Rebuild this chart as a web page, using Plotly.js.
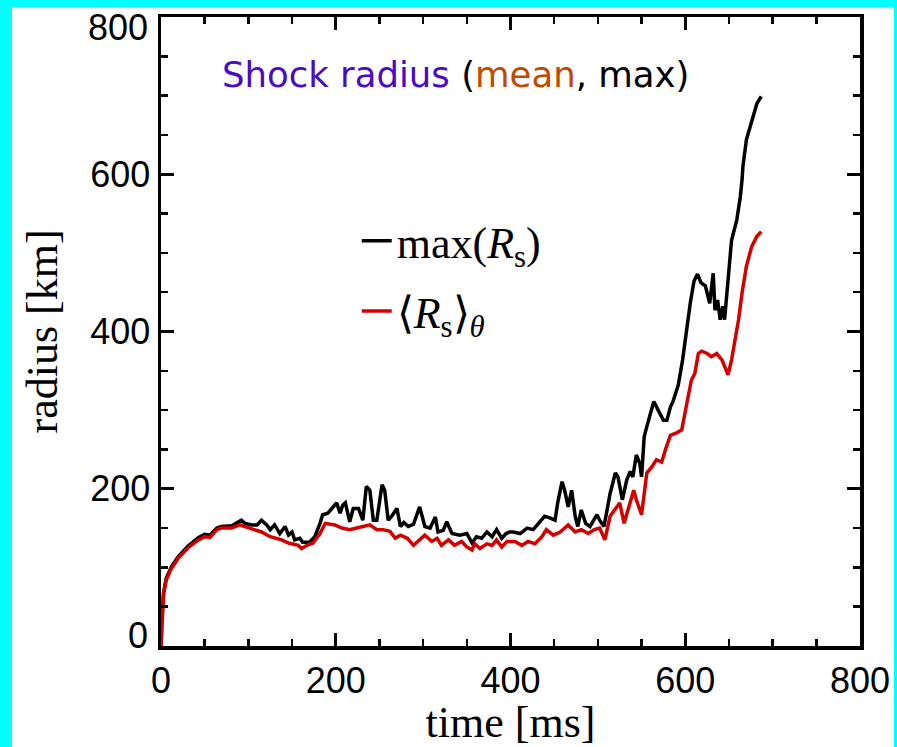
<!DOCTYPE html>
<html>
<head>
<meta charset="utf-8">
<script src="https://cdn.plot.ly/plotly-3.0.1.min.js"></script>
<style>
  html, body { margin: 0; padding: 0; background: #00ffff; }
  #chart { position: absolute; left: 12px; top: 7px; width: 882px; height: 740px; background: #ffffff; }
</style>
</head>
<body>
<div id="chart"></div>
<script>
// max(R_s) vs time
const tMax = [0, 1, 3, 6, 12, 20, 31, 43, 50, 56, 64, 69, 81, 92, 96, 104, 110, 115, 121, 125, 130, 136, 142, 146, 150, 153, 159, 162, 170, 176, 182, 185, 191, 197, 201, 205, 208, 211, 216, 220, 226, 231, 235, 239, 243, 247, 253, 256, 260, 264, 270, 274, 278, 283, 289, 296, 302, 308, 314, 317, 323, 327, 333, 342, 350, 356, 361, 367, 373, 379, 384, 390, 395, 399, 403, 411, 419, 426, 432, 439, 445, 451, 454, 459, 462, 466, 470, 474, 477, 481, 486, 491, 499, 502, 507, 510, 514, 520, 523, 528, 533, 537, 540, 544, 548, 550, 553, 556, 560, 564, 569, 575, 579, 583, 586, 592, 597, 601, 606, 610, 614, 618, 623, 628, 632, 634, 637, 640, 643, 645, 649, 653, 659, 663, 665, 666, 670, 676, 682, 687];
const rMax = [0, 35, 68, 86, 101, 114, 127, 138, 142, 141, 150, 152, 153, 160, 156, 154, 154, 160, 154, 148, 154, 143, 152, 141, 145, 135, 137, 132, 132, 139, 156, 167, 169, 177, 182, 169, 179, 182, 158, 175, 175, 160, 203, 198, 160, 160, 205, 198, 160, 165, 175, 152, 157, 152, 155, 177, 152, 150, 164, 145, 147, 158, 143, 141, 143, 131, 139, 137, 145, 139, 148, 137, 143, 145, 145, 143, 150, 148, 156, 165, 163, 160, 182, 209, 198, 177, 198, 165, 152, 173, 156, 152, 167, 160, 152, 171, 194, 220, 215, 186, 211, 222, 215, 243, 232, 215, 266, 279, 296, 311, 300, 287, 287, 304, 311, 332, 364, 400, 438, 464, 473, 462, 458, 436, 474, 427, 440, 415, 432, 415, 466, 516, 542, 571, 593, 610, 644, 669, 690, 699];

// <R_s>_theta vs time
const tMean = [0, 1, 3, 6, 12, 20, 31, 43, 50, 56, 64, 69, 81, 90, 100, 115, 125, 138, 146, 157, 161, 167, 174, 182, 188, 199, 207, 216, 224, 231, 239, 247, 254, 262, 268, 274, 282, 289, 296, 302, 310, 316, 321, 329, 336, 344, 350, 356, 359, 365, 373, 379, 384, 390, 396, 405, 413, 420, 428, 436, 441, 449, 457, 466, 474, 481, 489, 496, 502, 508, 514, 520, 525, 530, 535, 541, 544, 550, 556, 562, 567, 573, 578, 583, 590, 596, 601, 607, 611, 615, 619, 625, 630, 636, 642, 649, 653, 657, 661, 665, 670, 676, 682, 687];
const rMean = [0, 33, 67, 84, 99, 112, 125, 135, 139, 138, 148, 150, 150, 154, 150, 145, 139, 135, 131, 128, 124, 128, 131, 143, 156, 154, 150, 148, 150, 152, 154, 148, 148, 146, 137, 141, 137, 128, 135, 141, 133, 137, 128, 135, 128, 133, 126, 122, 130, 124, 130, 128, 135, 126, 133, 133, 128, 133, 130, 139, 148, 141, 145, 154, 145, 148, 143, 148, 150, 135, 165, 175, 182, 156, 177, 198, 186, 167, 220, 228, 237, 234, 252, 268, 271, 275, 304, 338, 347, 372, 375, 372, 368, 372, 364, 345, 364, 389, 415, 449, 483, 508, 521, 527];

const tickVals = [0, 200, 400, 600, 800];
const tickText = ['0', '200', '400', '600', '800'];

const traces = [
  { x: tMax, y: rMax, type: 'scatter', mode: 'lines', name: 'max(<i>R</i><sub>s</sub>)',
    legendgroup: 'a', line: { color: '#000000', width: 3.5 } },
  { x: tMean, y: rMean, type: 'scatter', mode: 'lines', name: '⟨<i>R</i><sub>s</sub>⟩<sub><i>θ</i></sub>',
    legendgroup: 'b', line: { color: '#d40000', width: 3.5 } }
];

const serif = 'Liberation Serif, Times New Roman, serif';
const sans = 'Liberation Sans, Arial, sans-serif';

const axisCommon = {
  range: [0, 800], tickvals: tickVals,
  showgrid: false, zeroline: false, showline: true, linecolor: '#000', linewidth: 3.5,
  mirror: 'ticks', ticks: 'inside', ticklen: 13, tickwidth: 3, tickcolor: '#000',
  minor: { dtick: 50, ticks: 'inside', ticklen: 7, tickwidth: 2.5, tickcolor: '#000' },
  tickfont: { family: sans, size: 36, color: '#000' },
  ticklabeloverflow: 'allow',
  fixedrange: true
};

// y end labels (0 and 800) sit slightly inside the axis ends in the reference
const yEndLabels = [
  { idx: 4, shift: -10 },
  { idx: 0, shift: 11 }
].map(o => ({
  xref: 'paper', yref: 'y', x: 0, y: tickVals[o.idx], xanchor: 'right', yanchor: 'middle',
  xshift: -11, yshift: o.shift, showarrow: false, text: tickText[o.idx],
  font: { family: sans, size: 36, color: '#000' }
}));

const layout = {
  width: 882, height: 740,
  margin: { l: 149, r: 34, t: 10, b: 101 },
  paper_bgcolor: '#ffffff', plot_bgcolor: '#ffffff',
  showlegend: true,
  legend: {
    x: 0.28, y: 0.70, xanchor: 'left', yanchor: 'top',
    bgcolor: 'rgba(0,0,0,0)', borderwidth: 0, tracegroupgap: 10,
    font: { family: serif, size: 44, color: '#000' }
  },
  xaxis: Object.assign({}, axisCommon, {
    ticktext: tickText,
    title: { text: 'time [ms]', standoff: 0, font: { family: serif, size: 44, color: '#000' } }
  }),
  yaxis: Object.assign({}, axisCommon, {
    ticktext: tickText.map((t, i) => (i === 0 || i === tickText.length - 1) ? '' : t),
    title: { text: 'radius [km]', standoff: 20, font: { family: serif, size: 44, color: '#000' } }
  }),
  annotations: [{
    xref: 'paper', yref: 'paper', x: 0.085, y: 0.908, xanchor: 'left', yanchor: 'middle',
    showarrow: false,
    text: '<span style="color:#4b0bc4">Shock radius</span> (<span style="color:#c04a00">mean</span>, max)',
    font: { family: 'DejaVu Sans, sans-serif', size: 35.5, color: '#000' }
  }].concat(yEndLabels)
};

Plotly.newPlot('chart', traces, layout, { displayModeBar: false, staticPlot: true });
</script>
</body>
</html>
